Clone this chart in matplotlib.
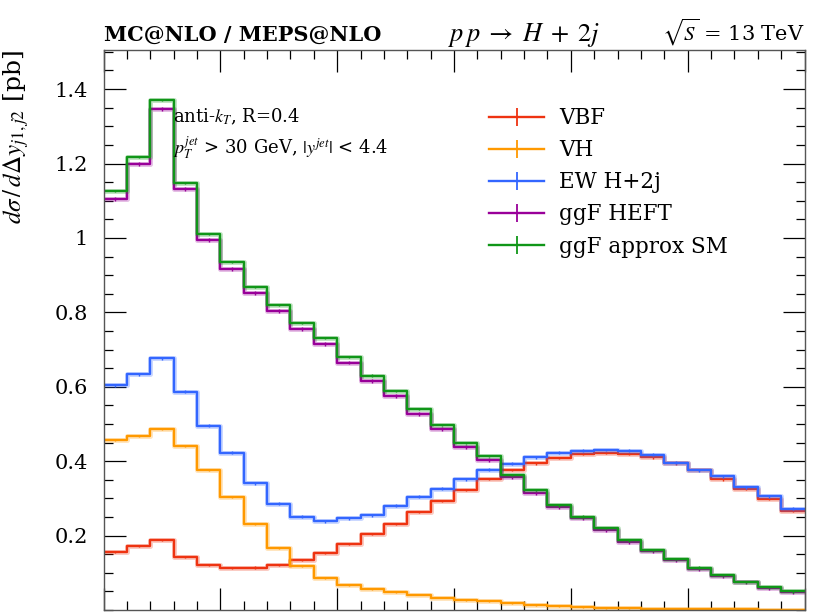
"""Rivet-style histogram: dsigma/dDelta y(j1,j2) for pp -> H + 2j."""

import matplotlib

matplotlib.use("Agg")
import matplotlib.pyplot as plt
from matplotlib.lines import Line2D
from matplotlib.ticker import FixedLocator, MultipleLocator, FormatStrFormatter

# 30 bins of 0.2 in Delta y, from 0 to 6
bin_edges = [round(0.2 * i, 1) for i in range(31)]

vbf = [0.155, 0.173, 0.188, 0.143, 0.120, 0.113, 0.114, 0.120, 0.134, 0.153,
       0.177, 0.204, 0.232, 0.263, 0.293, 0.323, 0.352, 0.376, 0.394, 0.409,
       0.419, 0.421, 0.419, 0.410, 0.394, 0.376, 0.351, 0.325, 0.298, 0.266]
vh = [0.457, 0.467, 0.487, 0.441, 0.376, 0.303, 0.231, 0.166, 0.118, 0.086,
      0.067, 0.057, 0.048, 0.041, 0.033, 0.027, 0.023, 0.018, 0.014, 0.011,
      0.008, 0.006, 0.005, 0.004, 0.003, 0.003, 0.002, 0.002, 0.001, 0.001]
ew_h2j = [0.604, 0.634, 0.677, 0.587, 0.495, 0.422, 0.341, 0.285, 0.250, 0.238,
          0.246, 0.255, 0.280, 0.304, 0.326, 0.351, 0.377, 0.393, 0.411, 0.423,
          0.428, 0.430, 0.428, 0.417, 0.396, 0.376, 0.360, 0.330, 0.306, 0.272]
ggf_heft = [1.104, 1.198, 1.347, 1.131, 0.994, 0.917, 0.851, 0.804, 0.755, 0.714,
            0.665, 0.616, 0.575, 0.526, 0.486, 0.439, 0.403, 0.357, 0.315, 0.277,
            0.247, 0.215, 0.183, 0.159, 0.135, 0.110, 0.092, 0.074, 0.060, 0.049]
ggf_sm = [1.126, 1.218, 1.370, 1.147, 1.011, 0.936, 0.868, 0.820, 0.771, 0.730,
          0.680, 0.630, 0.589, 0.540, 0.498, 0.448, 0.413, 0.362, 0.323, 0.281,
          0.251, 0.220, 0.187, 0.161, 0.137, 0.114, 0.095, 0.076, 0.062, 0.050]

labels = ["VBF", "VH", "EW H+2j", "ggF HEFT", "ggF approx SM"]
series = [vbf, vh, ew_h2j, ggf_heft, ggf_sm]
errors = [0.003, 0.002, 0.004, 0.005, 0.003]  # small MC stat. errors
colors = ["#EE3311", "#FF9900", "#3366FF", "#990099", "#109618"]

plt.rcParams["font.family"] = ["DejaVu Serif"]
plt.rcParams["mathtext.fontset"] = "stix"

fig = plt.figure(figsize=(8.3, 6.13), dpi=100)
fig.patch.set_facecolor("white")
ax = fig.add_axes([0.1247, 0.0049, 0.8446, 0.9135])

centers = [(bin_edges[i] + bin_edges[i + 1]) / 2 for i in range(len(bin_edges) - 1)]
handles = []
for vals, err, col, lab in zip(series, errors, colors, labels):
    steps = list(vals) + [vals[-1]]
    ax.step(bin_edges, steps, where="post", color=col, lw=3.6, alpha=0.25)
    ax.step(bin_edges, steps, where="post", color=col, lw=1.7)
    ax.errorbar(centers, vals, yerr=err, fmt="none", ecolor=col, elinewidth=1.0)
    handles.append(Line2D([], [], color=col, lw=1.7, marker="|",
                          markersize=13, markeredgewidth=1.3, label=lab))

ax.set_xlim(0, 6)
ax.set_ylim(0, 1.505)
ax.xaxis.set_major_locator(MultipleLocator(1))
ax.xaxis.set_minor_locator(MultipleLocator(0.2))
ax.yaxis.set_major_locator(FixedLocator([0.2, 0.4, 0.6, 0.8, 1.0, 1.2, 1.4]))
ax.yaxis.set_minor_locator(MultipleLocator(0.05))
ax.yaxis.set_major_formatter(FormatStrFormatter("%g"))
ax.tick_params(which="both", direction="in", top=True, right=True,
               labelbottom=False, colors="black", labelsize=15)
ax.tick_params(which="major", length=16, width=0.9, pad=11)
ax.tick_params(which="minor", length=6.5, width=0.9)
for sp in ax.spines.values():
    sp.set_linewidth(1.0)
    sp.set_color("#555555")

ax.set_ylabel(r"$d\sigma\,/\,d\Delta y_{j1,j2}$ [pb]", loc="top", fontsize=18)
ax.yaxis.set_label_coords(-0.103, 1.0)

ax.text(0.0, 1.016, "MC@NLO / MEPS@NLO", transform=ax.transAxes,
        ha="left", va="baseline", fontsize=15, weight="bold")
ax.text(0.60, 1.016, r"$p\,p\;\rightarrow\;H\;+\;2j$", transform=ax.transAxes,
        ha="center", va="baseline", fontsize=19)
ax.text(1.0, 1.016, r"$\sqrt{S}$ = 13 TeV", transform=ax.transAxes,
        ha="right", va="baseline", fontsize=15)

ax.text(0.099, 0.880, r"anti-$k_T$, R=0.4", transform=ax.transAxes,
        ha="left", va="center", fontsize=13)
ax.text(0.099, 0.825, r"$p_T^{jet}$ > 30 GeV, $|y^{jet}|$ < 4.4",
        transform=ax.transAxes, ha="left", va="center", fontsize=13)

ax.legend(handles=handles, loc="upper left", bbox_to_anchor=(0.55, 0.898),
          frameon=False, fontsize=15.5, handlelength=2.55, handletextpad=0.7,
          labelspacing=0.47, borderpad=0, borderaxespad=0)

fig.savefig("out.png", dpi=100, facecolor=fig.get_facecolor())
plt.close(fig)
